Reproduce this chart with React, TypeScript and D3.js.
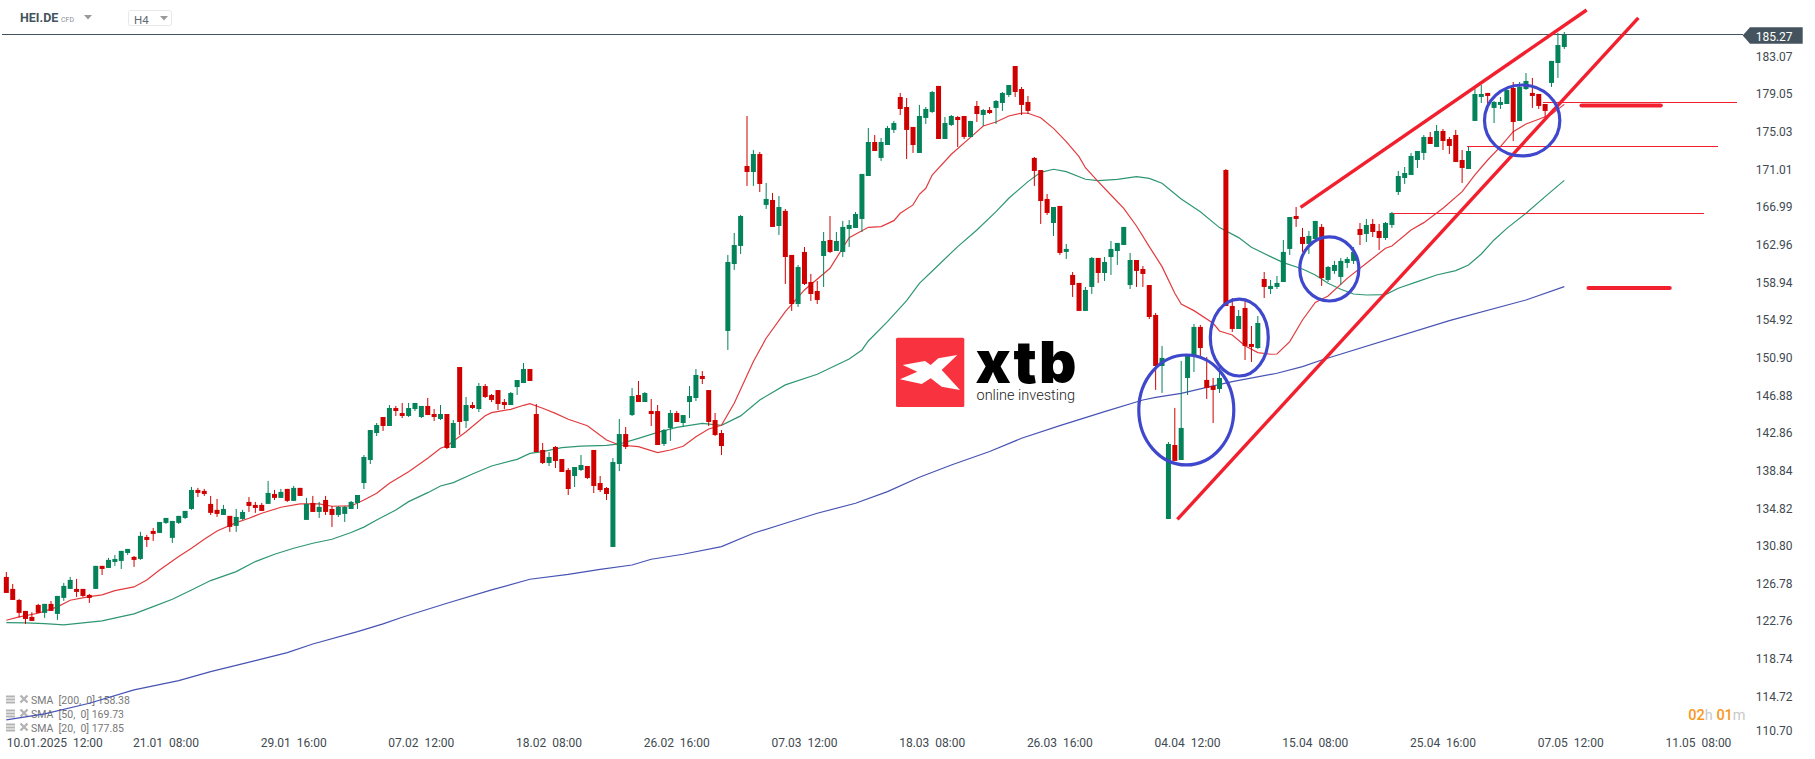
import React from 'react';
import * as d3 from 'd3';

const width = 1815;
const height = 759;

// open, high, low, close per H4 candle
const candles: number[][] = [
  [127.38,127.91,125.67,125.67],[126.10,126.63,124.92,124.92],[124.92,125.03,123.04,123.54],[123.75,123.75,122.36,122.89],
  [123.11,123.61,122.68,122.68],[124.39,124.50,123.54,123.54],[123.54,124.50,123.00,124.50],[124.50,124.82,123.75,123.75],
  [123.43,125.35,122.79,125.35],[125.14,126.74,124.82,126.42],[126.10,127.38,126.10,127.06],[126.10,127.17,125.24,125.78],
  [126.10,126.10,125.24,125.35],[125.46,125.56,124.60,125.14],[126.10,128.56,126.10,128.56],[128.56,128.56,127.59,128.23],
  [128.34,129.41,128.34,129.20],[128.98,129.73,128.56,129.30],[129.09,130.16,128.23,130.16],[129.94,130.37,129.73,130.37],
  [129.52,129.62,128.45,129.20],[129.30,132.19,129.20,131.76],[131.65,131.87,130.58,131.33],[132.29,132.61,131.23,131.97],
  [132.08,133.25,132.08,133.25],[133.15,133.68,133.04,133.68],[131.55,133.36,131.01,133.36],[133.15,133.90,133.04,133.90],
  [133.68,134.43,133.57,134.43],[134.64,136.99,134.54,136.67],[136.67,136.89,135.92,136.35],[136.57,136.78,136.03,136.24],
  [135.18,136.03,134.00,134.22],[134.54,135.71,133.79,134.11],[134.00,135.07,134.00,134.64],[133.90,133.90,132.19,132.72],
  [132.83,134.64,132.19,133.79],[133.57,134.54,133.47,134.32],[135.39,135.92,134.32,134.96],[135.07,135.39,134.22,134.75],
  [135.07,135.28,134.43,134.43],[135.18,137.63,135.18,136.35],[136.24,136.67,135.60,135.82],[135.82,136.78,135.82,136.46],
  [136.78,136.78,135.39,135.50],[135.50,137.10,135.50,136.89],[136.89,136.89,136.03,136.03],[133.47,135.82,133.47,135.18],
  [135.28,136.03,134.32,134.32],[134.32,135.39,133.68,134.86],[135.60,136.03,134.00,134.32],[134.64,134.96,132.72,134.00],
  [134.00,134.96,133.79,134.86],[134.11,134.96,133.25,134.86],[134.64,135.49,134.64,135.39],[135.28,136.13,134.63,136.13],
  [137.41,140.40,136.77,140.19],[139.87,143.07,139.44,143.07],[142.75,143.82,142.43,143.61],[144.46,144.46,142.97,143.50],
  [143.50,145.74,143.50,145.42],[145.42,145.64,144.57,145.10],[144.89,145.96,144.35,144.57],[144.57,145.96,144.46,145.42],
  [145.31,145.96,145.10,145.96],[144.46,145.64,144.35,145.64],[145.64,146.49,144.67,144.67],[144.78,145.31,144.03,144.46],
  [144.25,145.74,144.14,144.78],[144.78,144.78,141.04,141.15],[141.15,144.14,141.15,143.82],[149.80,149.80,142.54,143.93],
  [144.03,146.60,143.29,145.74],[145.74,146.06,145.31,145.42],[145.31,148.09,144.99,147.77],[147.77,147.98,146.49,146.60],
  [146.81,146.92,146.06,146.28],[147.34,147.34,145.21,145.85],[146.06,146.38,145.31,145.74],[145.74,147.13,145.74,147.02],
  [147.66,148.41,146.81,148.41],[148.09,150.23,148.09,149.59],[149.59,149.59,148.31,148.31],[144.78,145.85,140.72,140.72],
  [140.94,141.68,139.44,139.55],[139.55,140.72,139.23,140.19],[141.26,141.36,139.01,139.76],[139.97,139.97,138.59,138.59],
  [138.80,139.01,136.13,136.77],[138.16,139.12,136.98,139.12],[138.80,140.40,138.69,139.33],[139.23,139.23,137.84,137.95],
  [140.94,140.94,136.34,137.09],[137.41,138.16,136.45,136.66],[136.88,136.98,135.60,136.24],[130.58,140.08,130.58,139.65],
  [139.44,144.25,138.69,142.64],[142.64,143.39,141.04,141.26],[144.67,147.56,144.57,146.70],[146.81,148.31,146.06,146.06],
  [146.06,147.13,146.06,147.02],[145.10,146.38,143.50,144.78],[145.10,145.74,141.47,141.47],[141.58,143.18,141.36,143.07],
  [143.29,145.21,141.90,144.89],[144.89,145.10,143.93,143.93],[143.82,144.67,143.39,144.67],[146.06,147.77,144.35,146.70],
  [146.49,149.59,146.17,148.95],[148.84,149.37,147.98,148.52],[147.34,147.34,143.50,143.93],[144.14,144.89,142.43,142.54],
  [142.75,143.07,140.40,141.36],[153.65,161.77,151.62,161.02],[160.80,164.12,160.16,162.83],[162.73,166.04,161.87,165.93],
  [171.27,176.61,169.14,170.63],[170.63,172.98,169.14,172.55],[172.55,172.77,168.49,169.35],[167.11,169.46,166.68,167.75],
  [167.64,168.39,164.76,164.76],[164.86,168.07,163.90,166.89],[166.47,166.68,158.67,161.55],[161.77,161.77,155.79,156.53],
  [156.53,160.70,156.21,160.48],[162.09,162.62,158.56,158.67],[158.88,159.74,156.85,157.60],[157.92,158.99,156.53,156.96],
  [161.66,164.22,158.35,163.26],[163.37,165.93,161.98,162.09],[162.19,164.22,162.19,163.26],[162.09,165.40,161.55,164.76],
  [164.54,165.50,162.62,164.97],[164.65,166.36,164.65,166.14],[165.61,170.42,164.22,170.42],[170.20,175.33,170.20,173.83],
  [173.83,174.58,172.87,172.87],[172.13,174.26,171.81,173.83],[173.51,175.54,173.51,175.33],[175.12,176.08,174.80,175.86],
  [178.64,179.07,176.72,177.36],[177.57,178.53,172.02,175.12],[175.44,175.44,172.66,173.51],[172.66,177.79,172.66,176.61],
  [176.40,177.57,175.76,177.36],[177.04,179.28,176.93,179.17],[179.82,179.82,174.15,174.15],[174.15,176.50,174.15,175.86],
  [175.65,176.72,175.54,176.61],[176.50,176.61,173.30,176.18],[176.61,176.61,174.15,174.37],[174.37,176.08,174.37,176.08],
  [177.68,178.21,175.97,176.82],[176.72,177.36,175.54,177.25],[177.25,177.57,176.82,176.93],[177.47,178.32,175.76,178.21],
  [178.00,179.17,177.15,179.07],[178.85,179.92,178.64,179.92],[181.95,181.95,178.64,179.17],[179.49,179.71,176.72,177.79],
  [178.11,178.75,176.82,177.15],[172.13,172.23,169.14,170.74],[170.84,170.84,165.08,167.53],[167.75,168.28,166.04,166.25],
  [165.18,166.89,163.80,166.89],[167.00,167.00,161.77,161.98],[162.09,162.94,161.34,162.41],[159.63,159.95,157.28,158.56],
  [158.78,158.78,155.79,155.79],[155.79,158.35,155.79,158.03],[158.35,161.55,157.60,161.45],[161.45,161.45,158.78,159.84],
  [159.84,161.55,158.99,161.02],[161.55,163.26,159.63,162.41],[162.19,163.05,160.70,163.05],[162.83,164.76,162.83,164.76],
  [158.56,161.98,158.13,161.23],[161.23,161.23,158.35,160.06],[160.27,160.59,158.35,159.74],[158.56,158.56,154.93,155.14],
  [155.36,155.57,147.35,149.91],[149.91,152.05,147.03,150.77],[133.57,141.79,133.57,141.58],[141.47,145.43,139.77,139.77],
  [139.87,150.45,139.87,143.29],[148.63,151.19,146.81,150.98],[150.98,154.40,149.27,154.08],[154.08,154.29,150.98,151.83],
  [148.42,150.87,146.39,147.56],[147.78,148.63,143.82,147.35],[147.45,149.91,147.03,148.63],[170.84,170.95,156.32,156.32],
  [156.32,157.17,153.54,153.86],[153.86,155.89,153.86,155.25],[156.11,157.07,150.55,152.05],[152.26,154.18,150.34,151.94],
  [151.83,155.25,151.73,154.50],[159.20,159.95,157.17,158.35],[158.13,159.10,157.60,158.46],[158.35,159.52,158.13,158.78],
  [158.88,163.37,158.88,162.09],[162.41,165.82,161.77,165.82],[165.93,166.89,164.76,165.61],[163.69,164.65,162.09,162.94],
  [162.94,164.33,161.87,163.80],[163.47,165.40,163.47,165.40],[164.76,165.08,158.46,159.31],[159.10,160.59,158.88,160.48],
  [160.06,161.13,159.74,160.70],[159.42,161.45,158.56,161.13],[160.91,161.55,160.38,161.34],[161.13,162.62,160.80,162.09],
  [164.54,165.18,162.83,163.90],[164.01,165.61,163.15,164.97],[165.08,165.61,163.69,164.22],[164.33,165.08,162.30,163.58],
  [163.58,165.29,163.37,165.18],[164.97,166.36,164.65,166.25],[168.49,170.74,168.17,170.20],[169.99,171.16,169.35,170.52],
  [170.31,172.66,170.31,172.34],[171.91,172.87,171.06,172.87],[172.66,174.58,171.91,174.37],[174.37,174.90,173.62,173.62],
  [173.30,175.65,173.30,175.01],[175.01,175.22,172.98,173.94],[174.15,174.37,172.55,173.41],[174.58,175.12,171.70,171.70],
  [171.91,172.98,169.46,171.06],[170.95,173.30,170.95,172.87],[176.08,179.49,176.08,178.96],[178.64,179.92,178.00,178.96],
  [179.07,179.07,177.89,178.75],[177.47,178.21,175.86,178.11],[177.79,178.64,177.36,178.11],[177.89,179.49,177.89,179.39],
  [179.60,180.24,173.94,175.97],[176.08,180.24,176.08,179.71],[179.49,181.20,179.39,180.35],[179.07,180.67,177.47,178.75],
  [178.96,178.96,177.36,177.68],[177.89,177.89,176.40,177.15],[180.14,182.49,179.71,182.49],[182.27,185.48,180.67,184.19],
  [183.98,185.58,183.77,185.27],
];

// [candle index, value]
const sma20: number[][] = [
  [0,122.75],[2,123.11],[5,123.50],[8,124.18],[10,124.89],[13,125.28],[15,125.46],[17,125.92],[20,126.31],[22,127.06],
  [24,128.13],[27,129.55],[29,130.44],[31,131.40],[33,132.29],[36,133.18],[38,133.65],[40,134.18],[43,134.82],[46,135.18],
  [49,135.18],[51,134.93],[54,134.96],[56,135.60],[58,136.31],[60,137.38],[63,138.62],[66,140.05],[68,141.12],[69,141.36],
  [72,142.89],[75,144.60],[76,144.92],[79,145.28],[81,145.71],[82,145.88],[84,145.39],[86,144.85],[88,144.22],[91,143.53],
  [94,142.00],[96,141.47],[99,141.29],[102,140.65],[104,140.94],[106,141.33],[108,142.36],[110,143.18],[112,143.57],[114,145.92],
  [117,150.38],[119,152.87],[122,155.72],[125,158.03],[129,160.34],[132,163.62],[135,164.72],[137,164.79],[139,165.43],[140,166.22],
  [142,167.11],[143,168.25],[144,168.89],[145,170.31],[148,172.52],[151,174.33],[153,175.54],[155,175.97],[157,176.61],[159,176.93],
  [160,176.90],[162,176.43],[164,175.29],[166,173.87],[168,172.27],[169,171.08],[171,169.60],[173,168.17],[175,166.75],[177,164.86],
  [179,162.66],[181,160.52],[183,157.67],[184,156.53],[186,155.82],[189,154.47],[190,153.65],[192,153.22],[194,152.08],[196,151.34],
  [198,151.16],[199,151.19],[201,152.51],[203,154.82],[205,156.70],[207,157.39],[210,159.27],[213,160.88],[216,162.48],[217,162.73],
  [220,164.44],[222,165.22],[225,166.75],[228,168.53],[230,170.31],[232,171.91],[234,173.34],[236,174.94],[238,175.76],[240,176.26],
  [242,176.79],[244,177.85],
];

const sma50: number[][] = [
  [0,122.50],[3,122.47],[6,122.40],[9,122.25],[12,122.47],[15,122.68],[18,123.14],[20,123.43],[23,124.21],[26,125.00],
  [29,125.99],[32,126.99],[36,127.95],[39,129.02],[42,129.80],[45,130.44],[48,130.98],[51,131.40],[54,132.12],[56,132.70],
  [58,133.46],[61,134.53],[63,135.42],[66,136.38],[68,137.09],[70,137.45],[73,138.37],[76,139.23],[80,139.94],[82,140.58],
  [84,140.76],[87,141.19],[90,141.36],[94,141.43],[96,141.58],[99,142.18],[102,142.82],[105,143.36],[109,143.78],[112,143.57],
  [115,144.58],[118,146.28],[122,147.89],[127,149.03],[132,150.66],[134,151.62],[135,152.58],[138,154.65],[141,156.89],[143,158.74],
  [146,160.70],[149,162.66],[152,164.44],[155,166.39],[157,167.82],[160,169.60],[162,170.59],[164,170.92],[166,170.67],[169,169.85],
  [171,169.70],[174,169.85],[177,170.13],[179,169.95],[181,169.42],[184,167.75],[187,166.39],[190,164.69],[193,163.62],[195,162.58],
  [198,161.59],[200,160.95],[203,160.27],[205,159.63],[207,158.74],[209,158.10],[211,157.60],[213,157.49],[216,157.53],[218,158.21],
  [221,158.92],[224,159.63],[227,160.09],[229,160.70],[231,161.87],[233,163.37],[235,164.61],[238,166.22],[241,168.00],[244,169.73],
];

const sma200: number[][] = [
  [0,112.11],[6,112.75],[13,113.89],[20,115.31],[27,116.31],[32,117.27],[39,118.44],[44,119.30],[48,120.22],[55,121.54],
  [59,122.36],[62,123.07],[69,124.57],[76,125.99],[82,127.13],[88,127.66],[93,128.19],[98,128.65],[101,129.27],[106,129.80],
  [112,130.62],[117,132.04],[122,133.11],[127,134.18],[133,135.25],[138,136.49],[143,138.02],[148,139.34],[154,140.77],[159,142.19],
  [165,143.54],[167,143.97],[172,145.03],[178,146.28],[180,146.56],[184,146.99],[188,147.63],[192,148.24],[199,149.13],[203,149.84],
  [206,150.55],[226,154.76],[238,156.96],[244,158.38],
];

const priceTicks = ['183.07','179.05','175.03','171.01','166.99','162.96','158.94','154.92','150.90','146.88','142.86','138.84','134.82','130.80','126.78','122.76','118.74','114.72','110.70'];
const timeTickIndex = [25,45,65,85,105,125,145,165,185,205,225,245,265];
const timeTicks = ['21.01  08:00','29.01  16:00','07.02  12:00','18.02  08:00','26.02  16:00','07.03  12:00','18.03  08:00','26.03  16:00','04.04  12:00','15.04  08:00','25.04  16:00','07.05  12:00','11.05  08:00'];
const legendRows = ['SMA  [200,  0] 158.38','SMA  [50,  0] 169.73','SMA  [20,  0] 177.85'];

// drawings on the chart, in candle index and price
const trendLines: number[][][] = [[[183.4,133.52],[255.6,187.08]],[[202.7,166.84],[247.5,187.93]]];
const levelLines: number[][] = [[240.6,271.0,178.07],[228.7,268.0,173.37],[217.1,265.9,166.22]];
const levelBars: number[][] = [[246.7,259.1,177.73],[247.8,260.5,158.24]];
const rings: number[][] = [[184.8,145.21,7.44,5.87],[193.1,152.95,4.54,4.11],[207.2,160.27,4.62,3.42],[237.4,176.13,5.9,3.79]];

const lastPrice = 185.27;
const green = '#04825a';
const red = '#cf0000';
const drawRed = '#f2202e';
const slate = '#44535e';
const roboto = 'Roboto, sans-serif';

const x = d3.scaleLinear().domain([0, 244]).range([6.33, 1564.3]);
const y = d3.scaleLinear().domain([185.27, 110.7]).range([34.9, 733.1]);
const smaLine = d3.line<number[]>().x((d) => x(d[0])).y((d) => y(d[1]));

function Candles() {
  return (
    <g>
      {candles.map((d, i) => {
        const color = d[3] >= d[0] ? green : red;
        const top = y(Math.max(d[0], d[3]));
        const bottom = y(Math.min(d[0], d[3]));
        return (
          <g key={i}>
            <line x1={x(i)} x2={x(i)} y1={y(d[1])} y2={y(d[2])} stroke={color} strokeWidth={1} />
            <rect x={x(i) - 2.5} y={top} width={5} height={Math.max(bottom - top, 1)} fill={color} />
          </g>
        );
      })}
    </g>
  );
}

function Logo() {
  const star = '902.7,365 925,361 930.7,365 938.3,358.3 957.3,355 941.7,370 960,390 941.7,386.7 930.7,378.3 921.7,384 900,379.3 917.3,371.7';
  return (
    <g>
      <rect x={896} y={337.7} width={68.3} height={69.3} rx={1.5} fill="#f93240" />
      <polygon points={star} fill="#fff" />
      <text x={975.5} y={383.3} fontFamily="Inter, sans-serif" fontWeight={900} fontSize={58} textLength={101} lengthAdjust="spacing" fill="#000">xtb</text>
      <text x={976.5} y={400} fontFamily={roboto} fontWeight={300} fontSize={14.5} textLength={98.5} fill="#222">online investing</text>
    </g>
  );
}

function Header() {
  return (
    <g fontFamily={roboto}>
      <text x={20} y={22} fontSize={12.5} fontWeight={700} fill={slate}>HEI.DE</text>
      <text x={61} y={22} fontSize={7} fill="#8a9095">CFD</text>
      <polygon points="84,15 92,15 88,19.5" fill="#9a9a9a" />
      <rect x={128.5} y={10.5} width={43} height={15} rx={2} fill="#fff" stroke="#e6e8ea" />
      <text x={134} y={24} fontSize={11.5} fill="#5f6b73">H4</text>
      <polygon points="160,16 168,16 164,20.5" fill="#9a9a9a" />
    </g>
  );
}

function Legend() {
  return (
    <g fontFamily={roboto} fontSize={10.5} fill="#777">
      {legendRows.map((t, i) => {
        const cy = 699.5 + i * 14;
        return (
          <g key={t}>
            {[-4, -1, 2].map((o) => <rect key={o} x={6} y={cy + o} width={9} height={2} fill="#b4b4b4" />)}
            <path d={`M20.5 ${cy - 4} L27.5 ${cy + 3} M27.5 ${cy - 4} L20.5 ${cy + 3}`} stroke="#b4b4b4" strokeWidth={2.4} />
            <text x={31} y={cy + 4} style={{whiteSpace: 'pre'}}>{t}</text>
          </g>
        );
      })}
    </g>
  );
}

export default function App() {
  return (
    <svg width={width} height={height} viewBox={`0 0 ${width} ${height}`}
      style={{position: 'absolute', left: 0, top: 0, display: 'block', background: '#fff'}}>
      <Header />
      <Legend />

      <line x1={2} x2={1743} y1={y(lastPrice)} y2={y(lastPrice)} stroke={slate} strokeWidth={1} shapeRendering="crispEdges" />
      <Logo />

      <path d={smaLine(sma200) || ''} fill="none" stroke="#4753b3" strokeWidth={1.2} />
      <path d={smaLine(sma50) || ''} fill="none" stroke="#2f9673" strokeWidth={1.2} />
      <path d={smaLine(sma20) || ''} fill="none" stroke="#e23b3f" strokeWidth={1.2} />

      <Candles />

      {levelLines.map((d, i) => (
        <line key={i} x1={x(d[0])} x2={x(d[1])} y1={y(d[2])} y2={y(d[2])} stroke={drawRed} strokeWidth={1} shapeRendering="crispEdges" />
      ))}
      {levelBars.map((d, i) => (
        <line key={i} x1={x(d[0])} x2={x(d[1])} y1={y(d[2])} y2={y(d[2])} stroke={drawRed} strokeWidth={4.2} strokeLinecap="round" />
      ))}
      {trendLines.map((d, i) => (
        <line key={i} x1={x(d[0][0])} y1={y(d[0][1])} x2={x(d[1][0])} y2={y(d[1][1])} stroke={drawRed} strokeWidth={3.4} />
      ))}
      {rings.map((d, i) => (
        <ellipse key={i} cx={x(d[0])} cy={y(d[1])} rx={x(d[2]) - x(0)} ry={y(0) - y(d[3])} fill="none" stroke="#3f48cc" strokeWidth={3.2} />
      ))}

      <g fontFamily={roboto} fontSize={12} fill="#414a50">
        {priceTicks.map((t, i) => (
          <text key={t} x={1755.7} y={y(+t) + 5.3 - (t === '110.70' ? 3.5 : 0)}>{t}</text>
        ))}
        <text x={6.7} y={746.5} style={{whiteSpace: 'pre'}}>10.01.2025  12:00</text>
        {timeTicks.map((t, i) => (
          <text key={t} x={x(timeTickIndex[i])} y={746.5} textAnchor="middle" style={{whiteSpace: 'pre'}}>{t}</text>
        ))}
      </g>

      <polygon points="1742.7,35.5 1750,27.3 1802.7,27.3 1802.7,43.7 1750,43.7" fill={slate} />
      <text x={1755.7} y={40.9} fontFamily={roboto} fontSize={12} fill="#fff">{lastPrice.toFixed(2)}</text>

      <text x={1688.3} y={719.5} fontFamily={roboto} fontSize={14.5} fontWeight={500} fill="#f7981d">
        02<tspan fill="#c9c9c9" fontWeight={400}>h </tspan>01<tspan fill="#c9c9c9" fontWeight={400}>m</tspan>
      </text>
    </svg>
  );
}
